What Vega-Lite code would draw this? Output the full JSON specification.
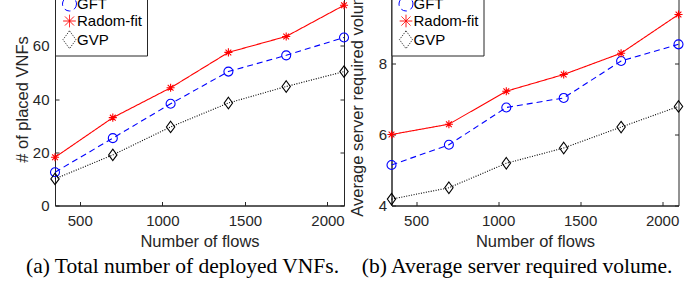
{
  "$schema": "https://vega.github.io/schema/vega-lite/v6.json",
  "autosize": {"type": "pad"},
  "padding": {"left": 13, "top": -19.5, "right": 0, "bottom": 0},
  "spacing": -3.5,
  "background": "white",
  "config": {
    "view": {"stroke": "#262626", "strokeWidth": 1},
    "axis": {
      "grid": false,
      "domainColor": "#262626",
      "tickColor": "#262626",
      "labelColor": "#262626",
      "titleColor": "#262626",
      "labelFont": "Liberation Sans",
      "titleFont": "Liberation Sans",
      "labelFontSize": 15,
      "titleFontSize": 16.5,
      "titleFontWeight": "normal",
      "tickSize": -4,
      "tickWidth": 1,
      "domainWidth": 1,
      "labelFlush": false,
      "labelOverlap": false
    },
    "title": {"font": "Liberation Serif", "fontSize": 21.5, "fontWeight": "normal", "color": "black", "orient": "bottom", "anchor": "middle", "frame": "bounds", "offset": 6},
    "legend": {
      "orient": "top-left",
      "offset": 0,
      "title": null,
      "padding": 4,
      "rowPadding": -1.3,
      "symbolSize": 196,
      "symbolOffset": 3,
      "labelOffset": 0,
      "labelFont": "Liberation Sans",
      "labelFontSize": 15,
      "labelColor": "black",
      "labelLimit": 300,
      "strokeColor": "#262626",
      "fillColor": "white",
      "symbolStrokeWidth": 1
    }
  },
  "resolve": {
    "scale": {"x": "independent", "y": "independent", "color": "independent", "shape": "independent", "strokeDash": "independent"},
    "legend": {"color": "independent"}
  },
  "hconcat": [
    {
      "width": 289,
      "height": 213,
      "title": {"text": "(a) Total number of deployed VNFs."},
      "data": {
        "values": [
          {"flows": 350, "series": "GFT", "value": 12.5},
          {"flows": 700, "series": "GFT", "value": 25.3},
          {"flows": 1050, "series": "GFT", "value": 38.2},
          {"flows": 1400, "series": "GFT", "value": 50.3},
          {"flows": 1750, "series": "GFT", "value": 56.4},
          {"flows": 2100, "series": "GFT", "value": 63.1},
          {"flows": 350, "series": "Radom-fit", "value": 18.1},
          {"flows": 700, "series": "Radom-fit", "value": 33.0},
          {"flows": 1050, "series": "Radom-fit", "value": 44.2},
          {"flows": 1400, "series": "Radom-fit", "value": 57.5},
          {"flows": 1750, "series": "Radom-fit", "value": 63.5},
          {"flows": 2100, "series": "Radom-fit", "value": 75.2},
          {"flows": 350, "series": "GVP", "value": 10.0},
          {"flows": 700, "series": "GVP", "value": 19.0},
          {"flows": 1050, "series": "GVP", "value": 29.5},
          {"flows": 1400, "series": "GVP", "value": 38.5},
          {"flows": 1750, "series": "GVP", "value": 44.7},
          {"flows": 2100, "series": "GVP", "value": 50.3}
        ]
      },
      "encoding": {
        "x": {
          "field": "flows", "type": "quantitative",
          "scale": {"domain": [350, 2100], "nice": false, "zero": false},
          "axis": {"values": [500, 1000, 1500, 2000], "format": "d", "title": "Number of flows", "labelPadding": 12, "titlePadding": 5}
        },
        "color": {
          "field": "series", "type": "nominal",
          "scale": {"domain": ["GFT", "Radom-fit", "GVP"], "range": ["#0000ff", "#ff0000", "#000000"]},
          "legend": {
            "encode": {
              "symbols": {
                "update": {
                  "shape": {"signal": "datum.value === 'GFT' ? 'M-1.64,0H-0.8M0.8,0H1.64M0.64,0A0.64,0.64 0 1,1 -0.64,0A0.64,0.64 0 1,1 0.64,0' : datum.value === 'Radom-fit' ? 'M-1.64,0H1.64M0,-0.57V0.57M-0.4,-0.4L0.4,0.4M-0.4,0.4L0.4,-0.4' : 'M-1.64,0H-1.5M-1.29,0H-1.14M-0.93,0H-0.79M0.79,0H0.93M1.14,0H1.29M1.5,0H1.64M0,-0.81L0.6,0L0,0.81L-0.6,0Z'"},
                  "fill": {"value": "transparent"},
                  "strokeWidth": {"value": 1},
                  "opacity": {"value": 1}
                }
              }
            }
          }
        }
      },
      "layer": [
        {
          "mark": {"type": "line", "strokeWidth": 1.1},
          "encoding": {
            "y": {
              "field": "value", "type": "quantitative",
              "scale": {"domain": [0, 80], "nice": false},
              "axis": {"values": [0, 20, 40, 60], "format": "d", "title": "# of placed VNFs", "labelPadding": 10, "titlePadding": 2}
            },
            "strokeDash": {
              "field": "series", "type": "nominal",
              "scale": {"domain": ["GFT", "Radom-fit", "GVP"], "range": [[6, 4], [1, 0], [1, 1.5]]},
              "legend": null
            }
          }
        },
        {
          "mark": {"type": "point", "filled": false, "strokeWidth": 1.1, "size": 81, "opacity": 1},
          "encoding": {
            "y": {
              "field": "value", "type": "quantitative",
              "scale": {"domain": [0, 80], "nice": false},
              "axis": {"orient": "right", "values": [0, 20, 40, 60], "labels": false, "domain": false, "title": null}
            },
            "shape": {
              "field": "series", "type": "nominal",
              "scale": {"domain": ["GFT", "Radom-fit", "GVP"], "range": ["circle", "M-0.9,0H0.9M0,-0.9V0.9M-0.64,-0.64L0.64,0.64M-0.64,0.64L0.64,-0.64", "M0,-1.27L0.93,0L0,1.27L-0.93,0Z"]},
              "legend": null
            }
          }
        }
      ],
      "resolve": {"axis": {"y": "independent"}}
    },
    {
      "width": 287,
      "height": 213,
      "title": {"text": "(b) Average server required volume."},
      "data": {
        "values": [
          {"flows": 350, "series": "GFT", "value": 5.14},
          {"flows": 700, "series": "GFT", "value": 5.71},
          {"flows": 1050, "series": "GFT", "value": 6.76},
          {"flows": 1400, "series": "GFT", "value": 7.03},
          {"flows": 1750, "series": "GFT", "value": 8.07},
          {"flows": 2100, "series": "GFT", "value": 8.54},
          {"flows": 350, "series": "Radom-fit", "value": 6.0},
          {"flows": 700, "series": "Radom-fit", "value": 6.29},
          {"flows": 1050, "series": "Radom-fit", "value": 7.22},
          {"flows": 1400, "series": "Radom-fit", "value": 7.69},
          {"flows": 1750, "series": "Radom-fit", "value": 8.29},
          {"flows": 2100, "series": "Radom-fit", "value": 9.38},
          {"flows": 350, "series": "GVP", "value": 4.18},
          {"flows": 700, "series": "GVP", "value": 4.5},
          {"flows": 1050, "series": "GVP", "value": 5.19},
          {"flows": 1400, "series": "GVP", "value": 5.62},
          {"flows": 1750, "series": "GVP", "value": 6.21},
          {"flows": 2100, "series": "GVP", "value": 6.79}
        ]
      },
      "encoding": {
        "x": {
          "field": "flows", "type": "quantitative",
          "scale": {"domain": [350, 2100], "nice": false, "zero": false},
          "axis": {"values": [500, 1000, 1500, 2000], "format": "d", "title": "Number of flows", "labelPadding": 12, "titlePadding": 5}
        },
        "color": {
          "field": "series", "type": "nominal",
          "scale": {"domain": ["GFT", "Radom-fit", "GVP"], "range": ["#0000ff", "#ff0000", "#000000"]},
          "legend": {
            "encode": {
              "symbols": {
                "update": {
                  "shape": {"signal": "datum.value === 'GFT' ? 'M-1.64,0H-0.8M0.8,0H1.64M0.64,0A0.64,0.64 0 1,1 -0.64,0A0.64,0.64 0 1,1 0.64,0' : datum.value === 'Radom-fit' ? 'M-1.64,0H1.64M0,-0.57V0.57M-0.4,-0.4L0.4,0.4M-0.4,0.4L0.4,-0.4' : 'M-1.64,0H-1.5M-1.29,0H-1.14M-0.93,0H-0.79M0.79,0H0.93M1.14,0H1.29M1.5,0H1.64M0,-0.81L0.6,0L0,0.81L-0.6,0Z'"},
                  "fill": {"value": "transparent"},
                  "strokeWidth": {"value": 1},
                  "opacity": {"value": 1}
                }
              }
            }
          }
        }
      },
      "layer": [
        {
          "mark": {"type": "line", "strokeWidth": 1.1},
          "encoding": {
            "y": {
              "field": "value", "type": "quantitative",
              "scale": {"domain": [4, 10], "nice": false, "zero": false},
              "axis": {"values": [4, 6, 8], "format": "d", "title": "Average server required volume", "labelPadding": 9, "titlePadding": 13}
            },
            "strokeDash": {
              "field": "series", "type": "nominal",
              "scale": {"domain": ["GFT", "Radom-fit", "GVP"], "range": [[6, 4], [1, 0], [1, 1.5]]},
              "legend": null
            }
          }
        },
        {
          "mark": {"type": "point", "filled": false, "strokeWidth": 1.1, "size": 81, "opacity": 1},
          "encoding": {
            "y": {
              "field": "value", "type": "quantitative",
              "scale": {"domain": [4, 10], "nice": false, "zero": false},
              "axis": {"orient": "right", "values": [4, 6, 8], "labels": false, "domain": false, "title": null}
            },
            "shape": {
              "field": "series", "type": "nominal",
              "scale": {"domain": ["GFT", "Radom-fit", "GVP"], "range": ["circle", "M-0.9,0H0.9M0,-0.9V0.9M-0.64,-0.64L0.64,0.64M-0.64,0.64L0.64,-0.64", "M0,-1.27L0.93,0L0,1.27L-0.93,0Z"]},
              "legend": null
            }
          }
        }
      ],
      "resolve": {"axis": {"y": "independent"}}
    }
  ]
}
